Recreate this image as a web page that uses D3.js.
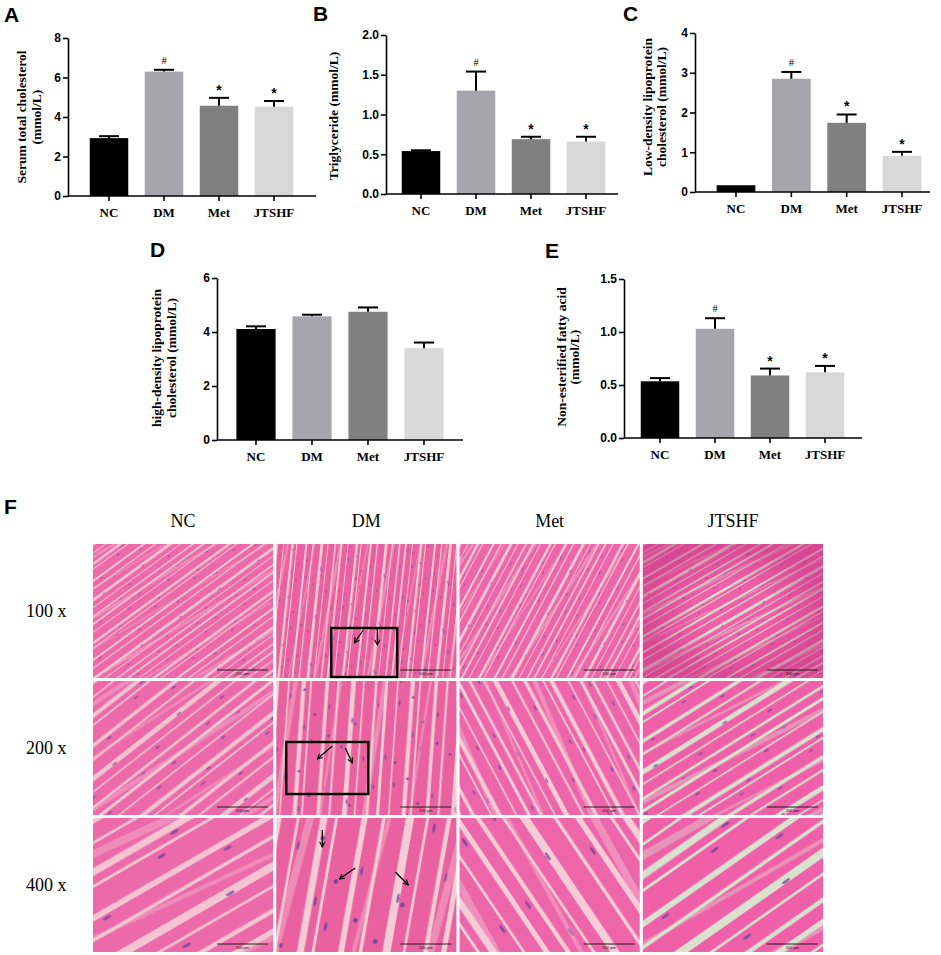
<!DOCTYPE html>
<html>
<head>
<meta charset="utf-8">
<script src="https://cdn.jsdelivr.net/npm/d3@7"></script>
<style>
  body { margin: 0; background: #fff; }
  svg { display: block; }
</style>
</head>
<body>
<svg id="fig" width="941" height="955"></svg>
<script>
// groups and bar fills
var groups = ["NC", "DM", "Met", "JTSHF"];
var groupColors = ["#000000", "#a5a5ab", "#808080", "#d8d8d8"];

// A - serum total cholesterol (mmol/L)
var tcMean = [2.93, 6.30, 4.57, 4.52];
var tcSem = [0.10, 0.09, 0.40, 0.29];
var tcSig = ["", "#", "*", "*"];
var tcTicks = [0, 2, 4, 6, 8];

// B - triglyceride (mmol/L)
var tgMean = [0.54, 1.30, 0.69, 0.66];
var tgSem = [0.01, 0.24, 0.03, 0.06];
var tgSig = ["", "#", "*", "*"];
var tgTicks = [0, 0.5, 1.0, 1.5, 2.0];

// C - LDL cholesterol (mmol/L)
var ldlMean = [0.17, 2.85, 1.74, 0.91];
var ldlSem = [0.0, 0.17, 0.21, 0.10];
var ldlSig = ["", "#", "*", "*"];
var ldlTicks = [0, 1, 2, 3, 4];

// D - HDL cholesterol (mmol/L)
var hdlMean = [4.11, 4.58, 4.75, 3.40];
var hdlSem = [0.10, 0.06, 0.16, 0.21];
var hdlSig = ["", "", "", ""];
var hdlTicks = [0, 2, 4, 6];

// E - non-esterified fatty acid (mmol/L)
var nefaMean = [0.535, 1.03, 0.59, 0.62];
var nefaSem = [0.03, 0.10, 0.065, 0.06];
var nefaSig = ["", "#", "*", "*"];
var nefaTicks = [0, 0.5, 1.0, 1.5];

// F - HE staining grid
var magnifications = ["100 x", "200 x", "400 x"];
var scaleBarText = ["100 μm", "200 μm", "100 μm"];
// rough fibre direction of each micrograph (degrees), rows = magnification
var fibreAngle = [
  [-36, -84, -62, -30],
  [-38, -86, 62, -32],
  [-30, -80, 56, -35]
];

var serif = "'Liberation Serif', 'Times New Roman', serif";
var sans = "'Liberation Sans', Arial, sans-serif";

var svg = d3.select("#fig");
var defs = svg.append("defs");

// panel layout (pixels)
var panels = [
  {letter: "A", lx: 4, ly: 22, mean: tcMean, sem: tcSem, sig: tcSig, ticks: tcTicks, fmt: d3.format("d"),
   ax: 68, yTop: 38, y0: 196, c0: 109, c1: 274, xEnd: 316,
   title: ["Serum total cholesterol", "(mmol/L)"], tx: 26, ty: 117, lh: 15},
  {letter: "B", lx: 313, ly: 21, mean: tgMean, sem: tgSem, sig: tgSig, ticks: tgTicks, fmt: d3.format(".1f"),
   ax: 386, yTop: 35, y0: 194, c0: 421, c1: 586, xEnd: 618,
   title: ["Triglyceride (mmol/L)"], tx: 338, ty: 116, lh: 15},
  {letter: "C", lx: 623, ly: 21, mean: ldlMean, sem: ldlSem, sig: ldlSig, ticks: ldlTicks, fmt: d3.format("d"),
   ax: 695, yTop: 33, y0: 192, c0: 736, c1: 902, xEnd: 930,
   title: ["Low-density lipoprotein", "cholesterol (mmol/L)"], tx: 652, ty: 107, lh: 14},
  {letter: "D", lx: 150, ly: 257, mean: hdlMean, sem: hdlSem, sig: hdlSig, ticks: hdlTicks, fmt: d3.format("d"),
   ax: 217, yTop: 278, y0: 440, c0: 256, c1: 424, xEnd: 463,
   title: ["high-density lipoprotein", "cholesterol (mmol/L)"], tx: 161, ty: 358, lh: 15},
  {letter: "E", lx: 545, ly: 258, mean: nefaMean, sem: nefaSem, sig: nefaSig, ticks: nefaTicks, fmt: d3.format(".1f"),
   ax: 624, yTop: 279, y0: 438, c0: 660, c1: 825, xEnd: 862,
   title: ["Non-esterified fatty acid", "(mmol/L)"], tx: 566, ty: 357, lh: 13}
];

panels.forEach(drawPanel);

function drawPanel(p) {
  var g = svg.append("g");
  var top = p.ticks[p.ticks.length - 1];
  var y = d3.scaleLinear().domain([0, top]).range([p.y0, p.yTop]);
  var step = (p.c1 - p.c0) / (groups.length - 1);
  var x = d3.scaleBand().domain(groups)
      .range([p.c0 - step / 2, p.c1 + step / 2])
      .paddingInner(0.3).paddingOuter(0.15);

  // bars
  g.selectAll("rect.bar")
      .data(groups)
    .enter().append("rect")
      .attr("class", "bar")
      .attr("x", function(d) { return x(d); })
      .attr("width", x.bandwidth())
      .attr("y", function(d, i) { return y(p.mean[i]); })
      .attr("height", function(d, i) { return p.y0 - y(p.mean[i]); })
      .attr("fill", function(d, i) { return groupColors[i]; });

  // error bars (upper only)
  var cap = 10;
  groups.forEach(function(d, i) {
    if (p.sem[i] <= 0) return;
    var cx = x(d) + x.bandwidth() / 2;
    var yt = y(p.mean[i] + p.sem[i]);
    g.append("line").attr("x1", cx).attr("x2", cx)
      .attr("y1", y(p.mean[i])).attr("y2", yt)
      .attr("stroke", "#000").attr("stroke-width", 2);
    g.append("line").attr("x1", cx - cap).attr("x2", cx + cap)
      .attr("y1", yt).attr("y2", yt)
      .attr("stroke", "#000").attr("stroke-width", 2);
    if (p.sig[i]) {
      var star = p.sig[i] === "*";
      g.append("text")
        .attr("x", cx).attr("y", yt - (star ? 3 : 6))
        .attr("text-anchor", "middle")
        .attr("fill", "#000")
        .style("font-family", star ? sans : serif)
        .style("font-weight", star ? "bold" : "normal")
        .style("font-size", star ? "14px" : "10.5px")
        .text(p.sig[i]);
    }
  });

  // y axis
  var ya = g.append("g")
      .attr("transform", "translate(" + p.ax + ",0)")
      .call(d3.axisLeft(y).tickValues(p.ticks).tickFormat(p.fmt)
        .tickSize(5).tickSizeOuter(0).tickPadding(2));
  ya.selectAll("path, line").attr("stroke", "#000").attr("stroke-width", 1.6);
  ya.selectAll("text")
      .style("font-family", sans).style("font-weight", "bold")
      .style("font-size", "12px").attr("fill", "#000");

  // x axis
  var xa = g.append("g")
      .attr("transform", "translate(0," + p.y0 + ")")
      .call(d3.axisBottom(x).tickSize(5).tickPadding(7));
  xa.select(".domain").remove();
  xa.append("line").attr("x1", p.ax).attr("x2", p.xEnd)
      .attr("stroke", "#000").attr("stroke-width", 1.6);
  xa.selectAll(".tick line").attr("stroke", "#000").attr("stroke-width", 1.6);
  xa.selectAll("text")
      .style("font-family", serif).style("font-weight", "bold")
      .style("font-size", "13px").attr("fill", "#000");

  // axis title
  var t = g.append("text")
      .attr("transform", "translate(" + p.tx + "," + p.ty + ") rotate(-90)")
      .attr("text-anchor", "middle")
      .style("font-family", serif).style("font-weight", "bold")
      .style("font-size", "13.5px");
  p.title.forEach(function(s, k) {
    t.append("tspan").attr("x", 0).attr("dy", k === 0 ? 0 : p.lh).text(s);
  });

  // panel letter
  svg.append("text").attr("x", p.lx).attr("y", p.ly)
      .style("font-family", sans).style("font-weight", "bold")
      .style("font-size", "21px").text(p.letter);
}

// ---------- F: micrographs ----------
var colX = d3.scaleBand().domain(groups).range([93, 823]).paddingInner(0.017);
var rowY = d3.scaleBand().domain(magnifications).range([544, 952]).paddingInner(0.022);
var cw = colX.bandwidth(), rh = rowY.bandwidth();

svg.append("text").attr("x", 4).attr("y", 514)
    .style("font-family", sans).style("font-weight", "bold")
    .style("font-size", "21px").text("F");

svg.selectAll("text.colhead")
    .data(groups)
  .enter().append("text")
    .attr("class", "colhead")
    .attr("x", function(d) { return colX(d) + cw / 2; })
    .attr("y", 527)
    .attr("text-anchor", "middle")
    .style("font-family", serif).style("font-size", "18px")
    .text(function(d) { return d; });

svg.selectAll("text.rowhead")
    .data(magnifications)
  .enter().append("text")
    .attr("class", "rowhead")
    .attr("x", 26)
    .attr("y", function(d) { return rowY(d) + rh / 2 + 6; })
    .style("font-family", serif).style("font-size", "18px")
    .text(function(d) { return d; });

var tissue = {NC: "#ec69aa", DM: "#e9629f", Met: "#ec66a9", JTSHF: "#ef60a8"};
var gapCol = {NC: "#f4c4d3", DM: "#f5cbd6", Met: "#f6ccd8", JTSHF: "#d9e2cf"};
var zoomK = [1, 1.7, 2.9];
var stripeY = [0, 7, 15, 20, 29, 36, 44, 51, 58];
var stripeW = [1.8, 0.9, 2.4, 1.0, 2.0, 1.2, 2.8, 0.9, 1.5];
var nucleusPos = [[8, 2], [22, 17], [35, 31], [14, 22], [40, 8], [28, 45], [6, 53], [38, 60]];

// vignette for the bright 100x JTSHF picture
var vg = defs.append("radialGradient").attr("id", "vign");
vg.append("stop").attr("offset", "40%").attr("stop-color", "#c02a7a").attr("stop-opacity", 0);
vg.append("stop").attr("offset", "100%").attr("stop-color", "#c02a7a").attr("stop-opacity", 0.45);

magnifications.forEach(function(m, r) {
  groups.forEach(function(gName, c) {
    var id = "p" + r + c;
    var k = zoomK[r];
    var ang = fibreAngle[r][c];
    var x0 = colX(gName), y0 = rowY(m);

    var pat = defs.append("pattern").attr("id", id)
        .attr("patternUnits", "userSpaceOnUse")
        .attr("width", 48).attr("height", 64)
        .attr("patternTransform", "translate(" + x0 + "," + y0 + ") rotate(" + ang + ") scale(" + k + ")");
    pat.append("rect").attr("width", 48).attr("height", 64).attr("fill", tissue[gName]);
    stripeY.forEach(function(sy, i) {
      pat.append("rect").attr("x", 0).attr("y", sy).attr("width", 48)
        .attr("height", stripeW[i]).attr("fill", gapCol[gName]);
    });
    nucleusPos.forEach(function(q) {
      pat.append("ellipse").attr("cx", q[0]).attr("cy", q[1] + 1.2)
        .attr("rx", 1.6).attr("ry", 0.5)
        .attr("fill", "#5b3c9c").attr("opacity", 0.7);
    });
    if (gName === "DM") {
      [[5, 9], [30, 24], [44, 17], [18, 33], [26, 48], [12, 41]].forEach(function(q) {
        pat.append("circle").attr("cx", q[0]).attr("cy", q[1]).attr("r", 0.8)
          .attr("fill", "#4e3a96").attr("opacity", 0.75);
      });
    }

    // second, slightly skewed layer so fibres look less regular
    var pat2 = defs.append("pattern").attr("id", id + "b")
        .attr("patternUnits", "userSpaceOnUse")
        .attr("width", 60).attr("height", 52)
        .attr("patternTransform", "translate(" + x0 + "," + y0 + ") rotate(" + (ang + 5) + ") scale(" + k + ")");
    pat2.append("rect").attr("y", 10).attr("width", 60).attr("height", 2.6).attr("fill", gapCol[gName]);
    pat2.append("rect").attr("y", 37).attr("width", 60).attr("height", 1.4).attr("fill", gapCol[gName]);

    var cell = svg.append("g");
    cell.append("rect").attr("x", x0).attr("y", y0).attr("width", cw).attr("height", rh)
        .attr("fill", "url(#" + id + ")");
    cell.append("rect").attr("x", x0).attr("y", y0).attr("width", cw).attr("height", rh)
        .attr("fill", "url(#" + id + "b)").attr("opacity", 0.4);
    if (gName === "JTSHF" && r === 0) {
      cell.append("rect").attr("x", x0).attr("y", y0).attr("width", cw).attr("height", rh)
          .attr("fill", "url(#vign)");
    }

    // scale bar
    cell.append("line").attr("x1", x0 + 124).attr("x2", x0 + 175)
        .attr("y1", y0 + 126).attr("y2", y0 + 126)
        .attr("stroke", "#111").attr("stroke-width", 0.9);
    cell.append("text").attr("x", x0 + 149.5).attr("y", y0 + 131)
        .attr("text-anchor", "middle")
        .style("font-family", sans).style("font-size", "4px").attr("fill", "#111")
        .text(scaleBarText[r]);
  });
});

// DM annotations: boxes and arrows, in pixels relative to each picture
var dmBoxes = [
  {row: 0, x: 55, y: 84, w: 66, h: 49},
  {row: 1, x: 10, y: 61, w: 82, h: 52}
];
var dmArrows = [
  {row: 0, x1: 87, y1: 86, x2: 78, y2: 99},
  {row: 0, x1: 101, y1: 85, x2: 101, y2: 101},
  {row: 1, x1: 56, y1: 65, x2: 41, y2: 78},
  {row: 1, x1: 69, y1: 67, x2: 76, y2: 82},
  {row: 2, x1: 46, y1: 12, x2: 46, y2: 29},
  {row: 2, x1: 79, y1: 50, x2: 63, y2: 61},
  {row: 2, x1: 119, y1: 54, x2: 132, y2: 67}
];

defs.append("marker").attr("id", "arrowhead")
    .attr("viewBox", "0 0 10 10").attr("refX", 9).attr("refY", 5)
    .attr("markerWidth", 5).attr("markerHeight", 5).attr("orient", "auto")
  .append("path").attr("d", "M1,1 L9,5 L1,9")
    .attr("fill", "none").attr("stroke", "#000").attr("stroke-width", 1.6);

var dmX = colX("DM");
svg.selectAll("rect.dmbox")
    .data(dmBoxes)
  .enter().append("rect")
    .attr("class", "dmbox")
    .attr("x", function(d) { return dmX + d.x; })
    .attr("y", function(d) { return rowY(magnifications[d.row]) + d.y; })
    .attr("width", function(d) { return d.w; })
    .attr("height", function(d) { return d.h; })
    .attr("fill", "none").attr("stroke", "#000").attr("stroke-width", 2.4);

svg.selectAll("line.dmarrow")
    .data(dmArrows)
  .enter().append("line")
    .attr("class", "dmarrow")
    .attr("x1", function(d) { return dmX + d.x1; })
    .attr("y1", function(d) { return rowY(magnifications[d.row]) + d.y1; })
    .attr("x2", function(d) { return dmX + d.x2; })
    .attr("y2", function(d) { return rowY(magnifications[d.row]) + d.y2; })
    .attr("stroke", "#000").attr("stroke-width", 1.3)
    .attr("marker-end", "url(#arrowhead)");
</script>
</body>
</html>
